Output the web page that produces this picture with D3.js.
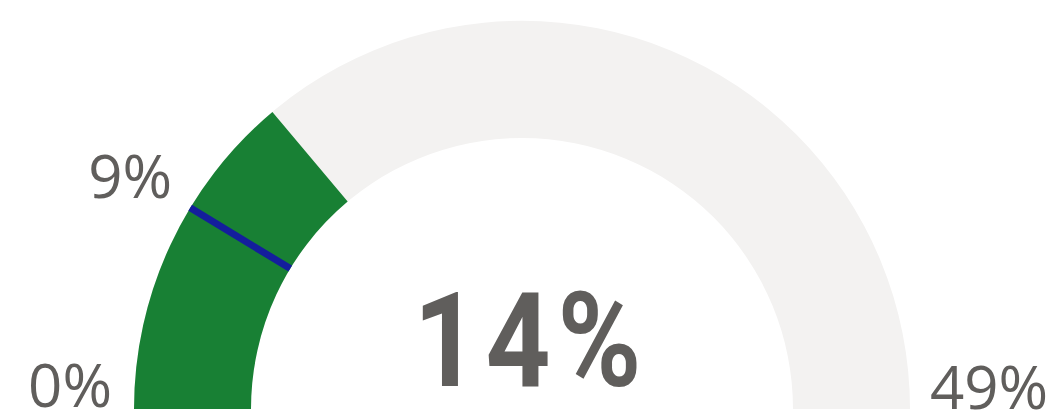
<!DOCTYPE html>
<html>
<head>
<meta charset="utf-8">
<script src="https://cdn.jsdelivr.net/npm/d3@7"></script>
<style>
    html, body { margin: 0; padding: 0; background: #fff; }
    #chart { width: 1051px; height: 410px; display: block; }
    .lbl { font-family: 'Open Sans', 'Segoe UI', sans-serif; font-size: 60px; fill: #605E5C; }
    .big { font-family: Roboto, sans-serif; font-weight: bold; font-size: 132px; fill: #605E5C; letter-spacing: 8px; }
</style>
</head>
<body>
<svg id="chart"></svg>
<script>
// gauge values
let minValue = 0
let maxValue = 49
let actualValue = 13.6
let targetValue = 8.5

let chart = d3.select('#chart')
let cx = 522
let cy = 409
let outerR = 388
let innerR = 271

// value -> angle
let angle = d3.scaleLinear()
    .domain([minValue, maxValue])
    .range([-Math.PI / 2, Math.PI / 2])

let arc = d3.arc()
    .innerRadius(innerR)
    .outerRadius(outerR)

let g = chart.append('g')
    .attr('transform', 'translate(' + cx + ',' + cy + ')')

// background track
g.append('path')
    .attr('d', arc({ startAngle: angle(minValue), endAngle: angle(maxValue) }))
    .attr('fill', '#F3F2F1')

// value fill
g.append('path')
    .attr('d', arc({ startAngle: angle(minValue), endAngle: angle(actualValue) }))
    .attr('fill', '#188034')

// target line
let ta = angle(targetValue)
g.append('line')
    .attr('x1', innerR * Math.sin(ta))
    .attr('y1', -innerR * Math.cos(ta))
    .attr('x2', outerR * Math.sin(ta))
    .attr('y2', -outerR * Math.cos(ta))
    .attr('stroke', '#141E9C')
    .attr('stroke-width', 7)

let fmt = (v) => Math.round(v) + '%'

// min / max / target labels
g.append('text')
    .attr('class', 'lbl')
    .attr('text-anchor', 'end')
    .attr('x', -outerR - 22)
    .attr('y', -2)
    .text(fmt(minValue))

g.append('text')
    .attr('class', 'lbl')
    .attr('text-anchor', 'start')
    .attr('x', outerR + 20)
    .attr('y', 0)
    .text(fmt(maxValue))

g.append('text')
    .attr('class', 'lbl')
    .attr('text-anchor', 'end')
    .attr('x', outerR * Math.sin(ta) - 18)
    .attr('y', -outerR * Math.cos(ta) - 10)
    .text(fmt(targetValue))

// callout value, narrowed to look like a condensed face
g.append('g')
    .attr('transform', 'translate(9,-23) scale(0.86,1)')
    .append('text')
    .attr('class', 'big')
    .attr('text-anchor', 'middle')
    .text(fmt(actualValue))
</script>
</body>
</html>
